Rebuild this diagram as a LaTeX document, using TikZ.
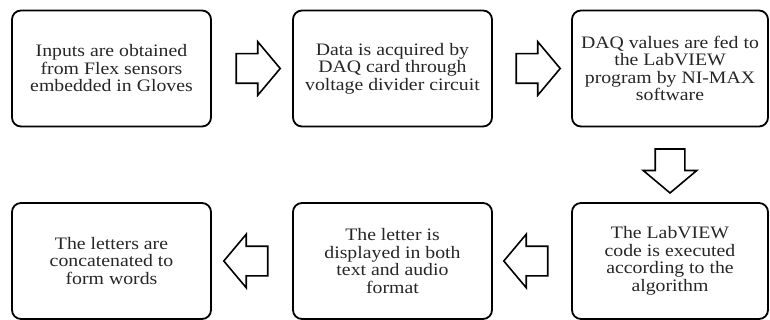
\documentclass[tikz,border=0pt]{standalone}
\usepackage{fontspec}
\setmainfont[FakeStretch=1.13]{Liberation Serif}
\usepackage{tikz}
\usetikzlibrary{positioning, shapes.arrows, calc}
\tikzset{
  stage/.style  = {draw, line width=1.8pt, rounded corners=9pt, minimum width=199pt,
                   minimum height=116pt, align=center, text=black!85, inner sep=4pt,
                   font=\fontsize{17.5}{17.5}\selectfont},
  flow/.style   = {draw, line width=1.6pt, single arrow, minimum height=44pt,
                   minimum width=52pt, inner sep=14pt, single arrow head extend=12pt,
                   single arrow tip angle=100},
  flowR/.style  = {flow},
  flowD/.style  = {flow, shape border rotate=270},
  flowL/.style  = {flow, shape border rotate=180},
}

\begin{document}
\begin{tikzpicture}[x=1pt, y=-1pt]
  \useasboundingbox (0,0) rectangle (770,320);

  \node[stage] at (111.5, 68.5) (inp)   {Inputs are obtained\\from Flex sensors\\embedded in Gloves};
  \node[stage] at (392.5, 68.5) (daq)   {Data is acquired by\\DAQ card through\\voltage divider circuit};
  \node[stage, minimum width=196pt] at (670, 68.5) (feed) {DAQ values are fed to\\the LabVIEW\\program by NI-MAX\\software};
  \node[stage, minimum width=196pt] at (670, 261) (exec) {The LabVIEW\\code is executed\\according to the\\algorithm};
  \node[stage] at (392.5, 261)  (disp)  {The letter is\\displayed in both\\text and audio\\format};
  \node[stage] at (111.5, 261)  (words) {The letters are\\concatenated to\\form words};

  % hollow block arrows between the stages
  \node[flowR] at ($(inp.east)!0.5!(daq.west)$)    (a1) {};
  \node[flowR] at ($(daq.east)!0.5!(feed.west)$)   (a2) {};
  \node[flowD] at ($(feed.south)!0.5!(exec.north)$) (a3) {};
  \node[flowL] at ($(exec.west)!0.5!(disp.east)$)  (a4) {};
  \node[flowL] at ($(disp.west)!0.5!(words.east)$) (a5) {};
\end{tikzpicture}
\end{document}
